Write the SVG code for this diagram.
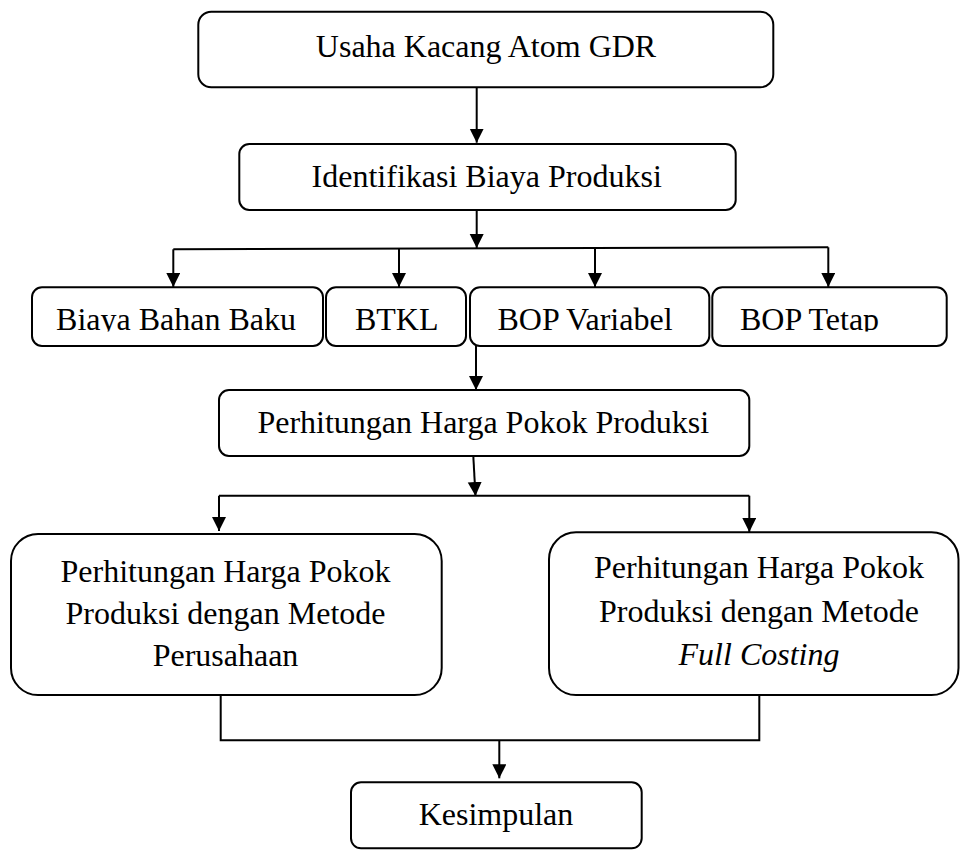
<svg xmlns="http://www.w3.org/2000/svg" width="960" height="850" viewBox="0 0 960 850">
<style>
.box{fill:#fff;stroke:#000;stroke-width:2}
.t{font-family:"Liberation Serif","Times New Roman",serif;font-size:32px;fill:#000;text-anchor:middle}
.c{fill:none;stroke:#000;stroke-width:2}
</style>
<defs>
<marker id="ah" markerUnits="userSpaceOnUse" markerWidth="15" markerHeight="15" refX="14" refY="7" orient="auto">
<path d="M0,0 L14,7 L0,14 z" fill="#000"/>
</marker>
<clipPath id="cut"><rect x="0" y="280" width="960" height="51.5"/></clipPath>
</defs>
<rect width="960" height="850" fill="#fff"/>
<g id="n-usaha"><rect class="box" x="198.3" y="11.7" width="575" height="75.6" rx="13"/><text class="t" x="486" y="57">Usaha Kacang Atom GDR</text></g>
<g id="n-identifikasi"><rect class="box" x="239.3" y="144" width="496.4" height="66" rx="10"/><text class="t" x="486.7" y="187">Identifikasi Biaya Produksi</text></g>
<g id="n-bbb"><rect class="box" x="32" y="287.3" width="291" height="58.7" rx="10"/><text class="t" x="176" y="330" clip-path="url(#cut)">Biaya Bahan Baku</text></g>
<g id="n-btkl"><rect class="box" x="326" y="287.3" width="140" height="58.7" rx="10"/><text class="t" x="396.7" y="330" clip-path="url(#cut)">BTKL</text></g>
<g id="n-bopv"><rect class="box" x="470" y="287.3" width="239.3" height="58.7" rx="10"/><text class="t" x="585" y="330" clip-path="url(#cut)">BOP Variabel</text></g>
<g id="n-bopt"><rect class="box" x="712.3" y="287.3" width="234.4" height="58.7" rx="10"/><text class="t" x="740" y="330" style="text-anchor:start" clip-path="url(#cut)">BOP Tetap</text></g>
<g id="n-hpp"><rect class="box" x="219" y="390" width="530.3" height="66" rx="10"/><text class="t" x="483.3" y="433">Perhitungan Harga Pokok Produksi</text></g>
<g id="n-perusahaan"><rect class="box" x="11" y="534" width="430.7" height="161" rx="27"/><text class="t" x="225.5" y="582">Perhitungan Harga Pokok</text><text class="t" x="225.5" y="624">Produksi dengan Metode</text><text class="t" x="225.5" y="666">Perusahaan</text></g>
<g id="n-fullcosting"><rect class="box" x="549" y="532.3" width="409.5" height="162.7" rx="27"/><text class="t" x="759" y="578">Perhitungan Harga Pokok</text><text class="t" x="759" y="622">Produksi dengan Metode</text><text class="t" x="759" y="665" font-style="italic">Full Costing</text></g>
<g id="n-kesimpulan"><rect class="box" x="351" y="782.3" width="290.7" height="66" rx="10"/><text class="t" x="496" y="825">Kesimpulan</text></g>
<g id="connectors">
<path class="c" d="M476.7,87.3 V142.7" marker-end="url(#ah)"/>
<path class="c" d="M476.7,210 V248" marker-end="url(#ah)"/>
<path class="c" d="M173.3,249.3 L828.3,247.3"/>
<path class="c" d="M173.3,249.3 V287" marker-end="url(#ah)"/>
<path class="c" d="M399,249 V287" marker-end="url(#ah)"/>
<path class="c" d="M595,248.3 V287" marker-end="url(#ah)"/>
<path class="c" d="M828.3,247.3 V287" marker-end="url(#ah)"/>
<path class="c" d="M476,346 V390" marker-end="url(#ah)"/>
<path class="c" d="M473.3,456 L475.5,496" marker-end="url(#ah)"/>
<path class="c" d="M219,495.7 H749.3"/>
<path class="c" d="M219,495.7 V531" marker-end="url(#ah)"/>
<path class="c" d="M749.3,495.7 V532" marker-end="url(#ah)"/>
<path class="c" d="M220.7,695 V740.3 H759.3 V695"/>
<path class="c" d="M499.3,740.3 V778.3" marker-end="url(#ah)"/>
</g>
</svg>
